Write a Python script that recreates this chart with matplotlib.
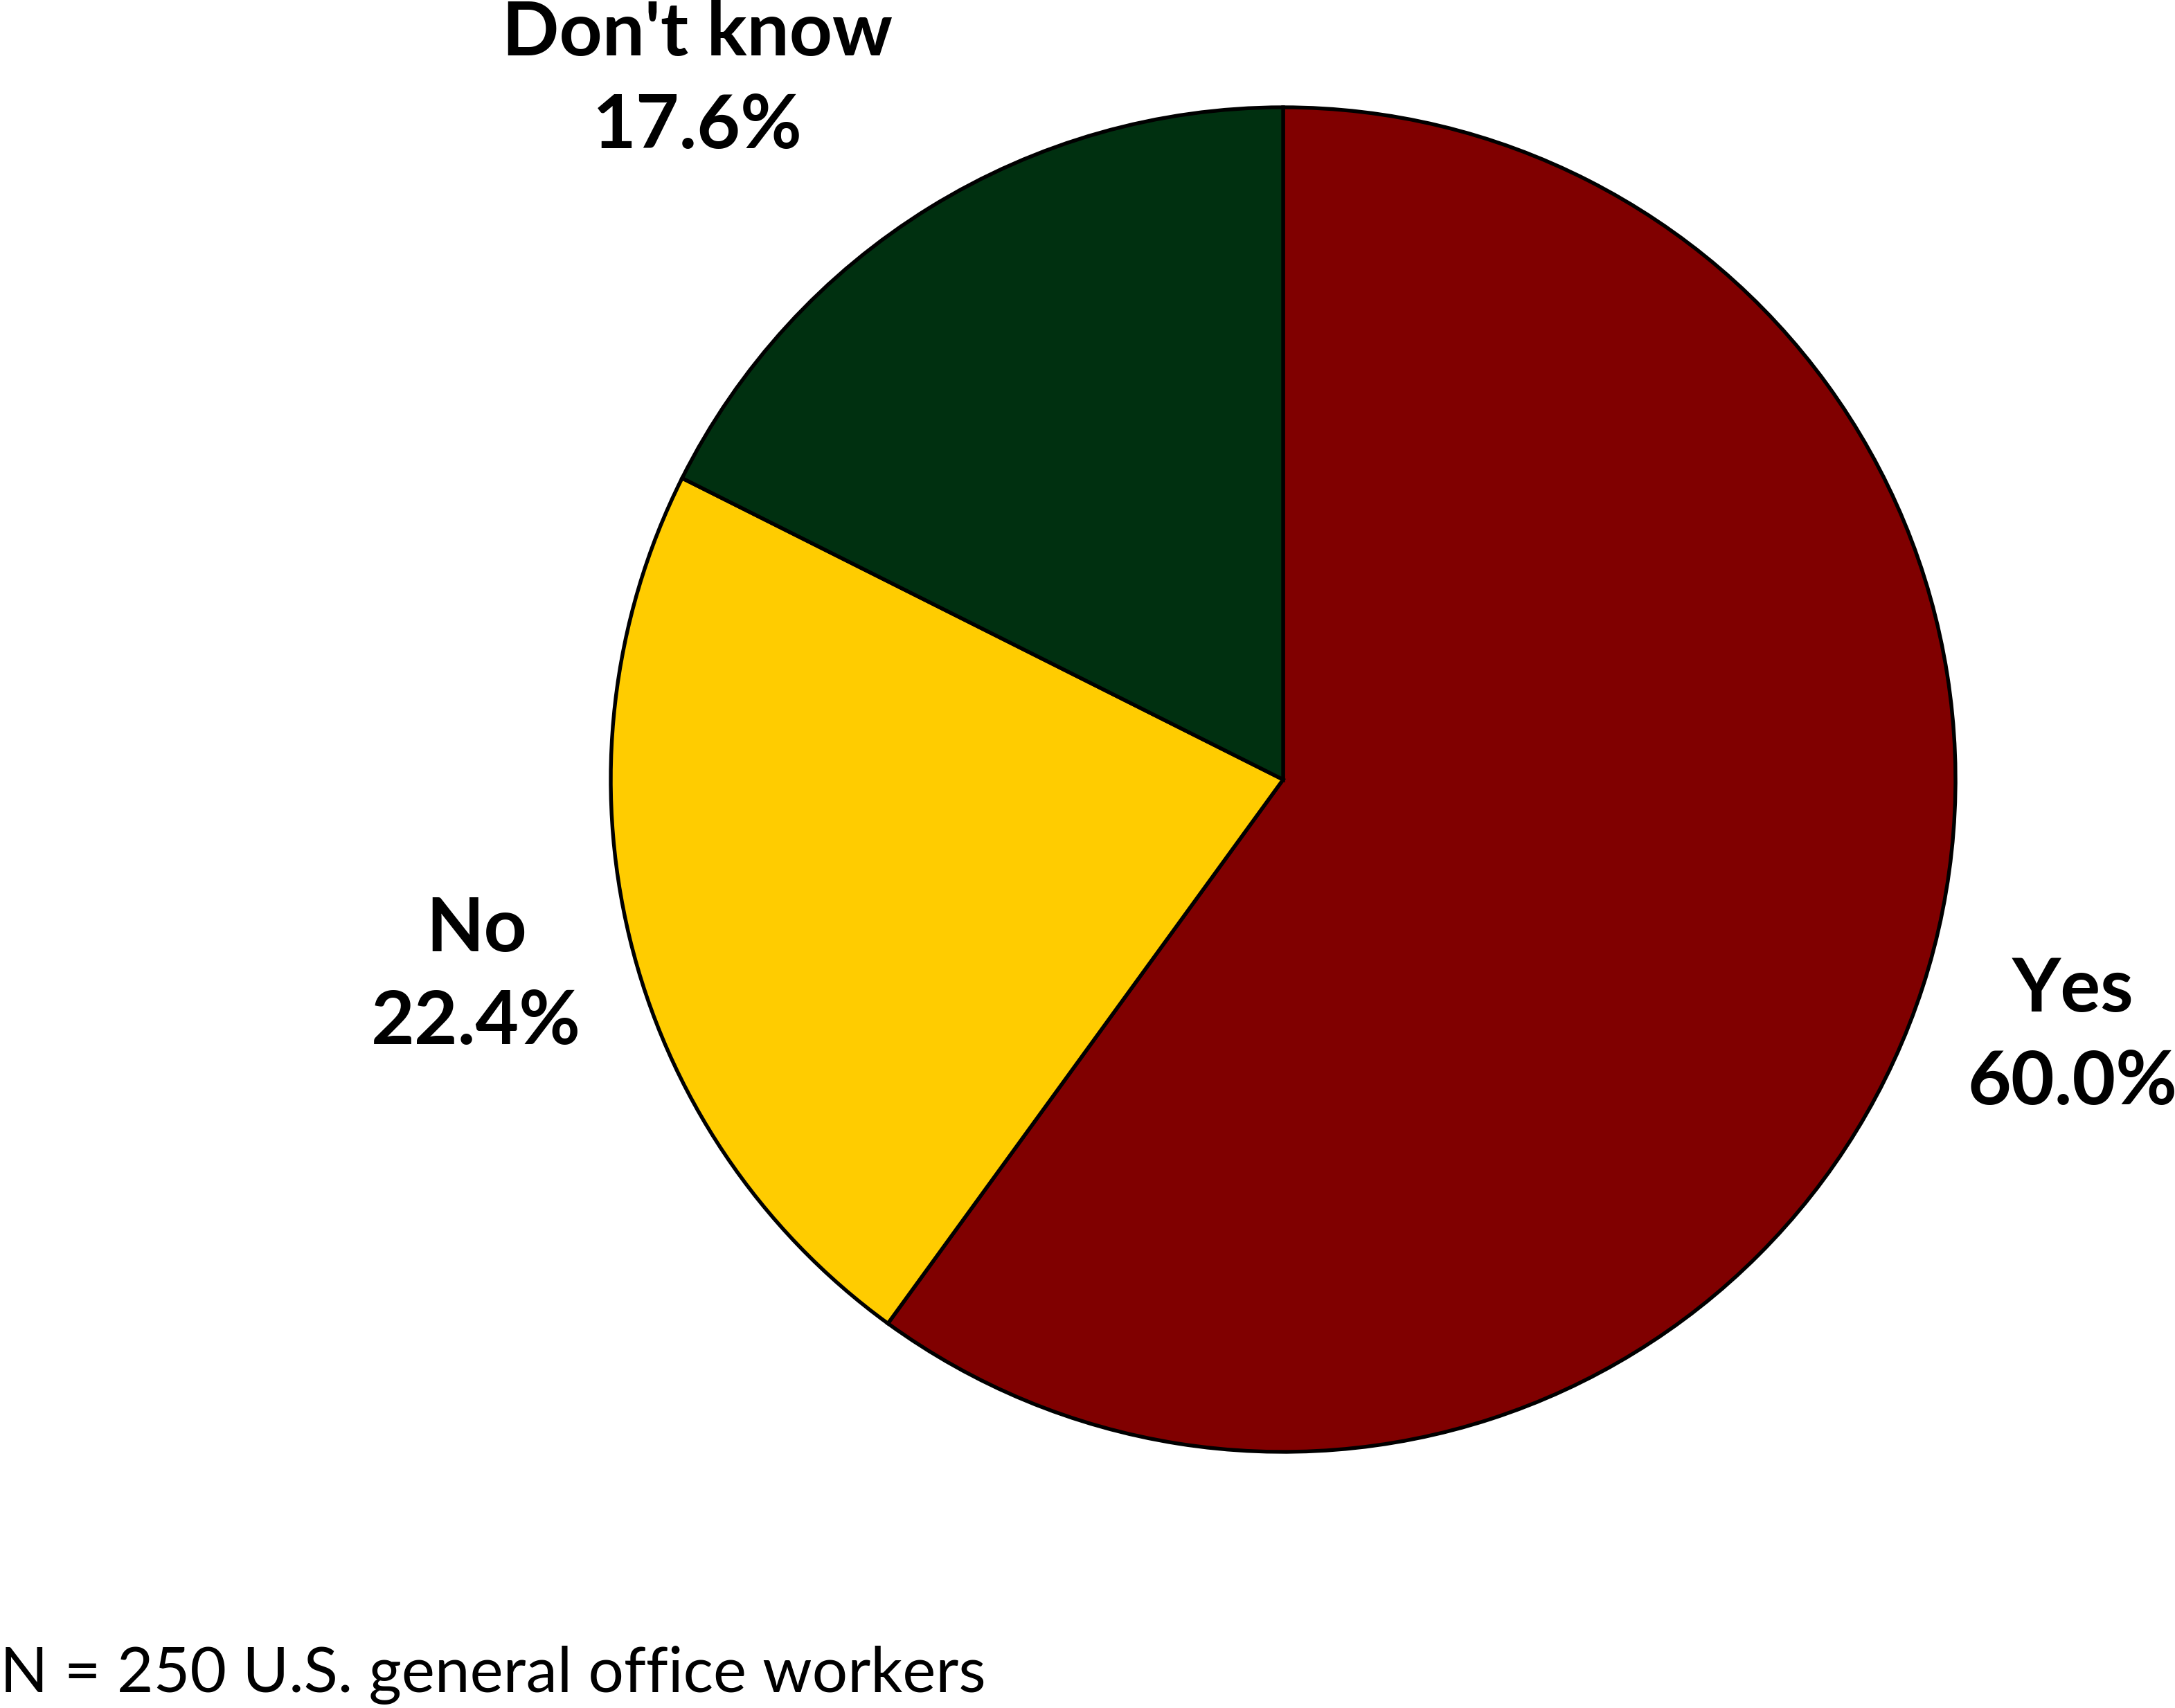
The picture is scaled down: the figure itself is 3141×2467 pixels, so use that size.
import matplotlib.pyplot as plt

# survey answers
answers = ['Yes', 'No', "Don't know"]
shares = [60.0, 22.4, 17.6]
colors = ['#800000', '#FFCC00', '#003010']
note = 'N = 250 U.S. general office workers'

W, H = 3141, 2467
fig = plt.figure(figsize=(W / 300, H / 300), dpi=300)
ax = fig.add_axes([0, 0, 1, 1])

labels = [f'{a}\n{s:.1f}%' for a, s in zip(answers, shares)]
wedges, texts = ax.pie(shares, colors=colors, startangle=90, counterclock=False,
                       center=(1853, H - 1126), radius=971, labels=labels,
                       labeldistance=1.235,
                       wedgeprops=dict(edgecolor='black', linewidth=1.3),
                       textprops=dict(fontsize=26, fontweight='bold',
                                      family='Lato', linespacing=1.45),
                       frame=True)
for t in texts:
    t.set_ha('center')
    t.set_va('center')
# the "Don't know" label sits up above the slice
texts[2].set_position((1007, H - 116))

ax.set_xlim(0, W)
ax.set_ylim(0, H)
ax.set_aspect('equal')
ax.axis('off')

fig.text(0.0, 1 - 2444 / H, note, ha='left', va='baseline',
         fontsize=21.8, family='Lato')

fig.savefig('out.png', dpi=300)
